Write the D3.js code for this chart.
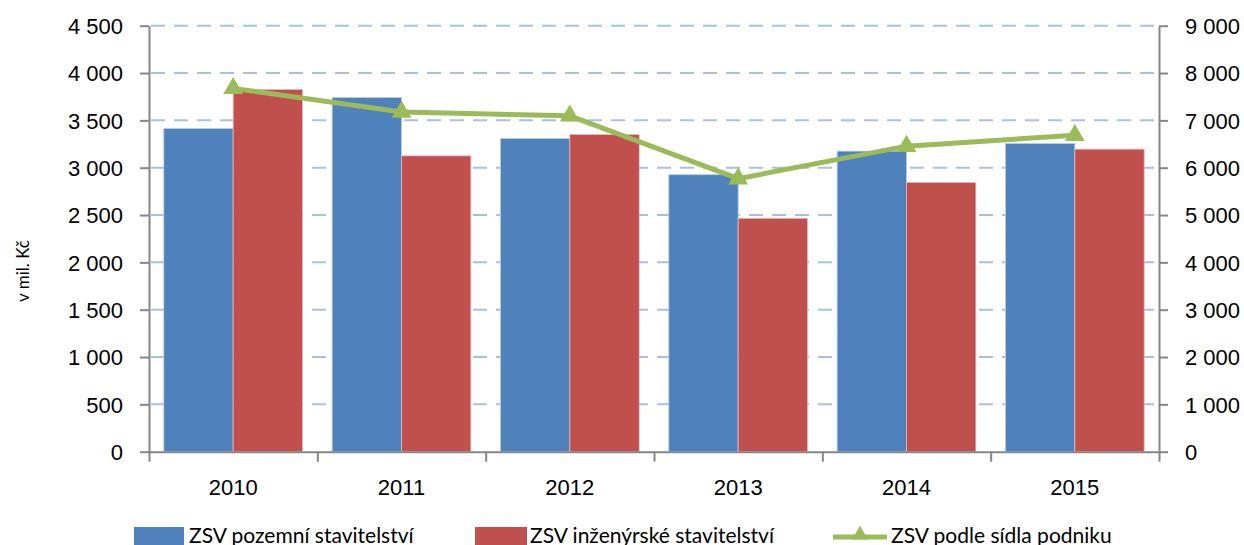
<!DOCTYPE html>
<html>
<head>
<meta charset="utf-8">
<script src="https://cdn.jsdelivr.net/npm/d3@7"></script>
<style>
  body { margin: 0; background: #fff; }
  svg { display: block; font-family: Lato, "Open Sans", sans-serif; }
  .axis path, .axis line { stroke: #868686; stroke-width: 2; }
  .axis text { fill: #000; font-size: 22px; }
  .grid line { stroke: #a9c0e4; stroke-width: 2; stroke-dasharray: 14 9; }
</style>
</head>
<body>
<div class="chart"></div>
<script>
const years = [ "2010", "2011", "2012", "2013", "2014", "2015" ];
const pozemni  = [ 3414, 3741, 3308, 2926, 3175, 3255 ];
const inzenyrske = [ 3826, 3125, 3350, 2465, 2845, 3196 ];
const sidlo = [ 7676, 7177, 7095, 5768, 6455, 6684 ];
const leftTicks  = [ 0, 500, 1000, 1500, 2000, 2500, 3000, 3500, 4000, 4500 ];
const rightTicks = [ 0, 1000, 2000, 3000, 4000, 5000, 6000, 7000, 8000, 9000 ];
const seriesNames = [ "ZSV pozemní stavitelství", "ZSV inženýrské stavitelství", "ZSV podle sídla podniku" ];

const width  = 1244;
const height = 545;
const margin = { top: 25.7, right: 85, bottom: 93.3, left: 149 };
const w = width - margin.left - margin.right;
const h = height - margin.top - margin.bottom;

const blue = "#4f81bd", red = "#c0504d", green = "#9bbb59";
const fmt = d3.formatLocale( { decimal: ",", thousands: " ", grouping: [ 3 ], currency: [ "", " Kč" ] } ).format( ",d" );

const svg = d3.select( ".chart" )
  .append( "svg" )
    .attr( "width", width )
    .attr( "height", height );

const g = svg.append( "g" )
    .attr( "transform", `translate(${ margin.left },${ margin.top })` );

const x = d3.scaleBand()
  .domain( years )
  .range( [ 0, w ] );

const x1 = d3.scaleBand()
  .domain( [ 0, 1 ] )
  .range( [ x.bandwidth() * 0.088, x.bandwidth() * 0.912 ] );

const yLeft = d3.scaleLinear()
  .domain( [ 0, 4500 ] )
  .range( [ h, 0 ] );

const yRight = d3.scaleLinear()
  .domain( [ 0, 9000 ] )
  .range( [ h, 0 ] );

// gridlines
g.append( "g" )
  .attr( "class", "grid" )
  .selectAll( "line" )
  .data( leftTicks.filter( d => d > 0 ) )
  .enter()
    .append( "line" )
    .attr( "x1", 2 )
    .attr( "x2", w )
    .attr( "y1", d => yLeft( d ) )
    .attr( "y2", d => yLeft( d ) );

// bars
const group = g.selectAll( "g.year" )
  .data( years )
  .enter()
    .append( "g" )
    .attr( "class", "year" )
    .attr( "transform", d => `translate(${ x( d ) },0)` );

group.append( "rect" )
  .attr( "x", x1( 0 ) )
  .attr( "width", x1.bandwidth() )
  .attr( "y", ( d, i ) => yLeft( pozemni[ i ] ) )
  .attr( "height", ( d, i ) => h - yLeft( pozemni[ i ] ) )
  .attr( "fill", blue )
  .attr( "stroke", "#b9cde5" )
  .attr( "stroke-width", 0.8 );

group.append( "rect" )
  .attr( "x", x1( 1 ) )
  .attr( "width", x1.bandwidth() )
  .attr( "y", ( d, i ) => yLeft( inzenyrske[ i ] ) )
  .attr( "height", ( d, i ) => h - yLeft( inzenyrske[ i ] ) )
  .attr( "fill", red )
  .attr( "stroke", "#e6b9b8" )
  .attr( "stroke-width", 0.8 );

// axes
const leftAxis = g.append( "g" )
  .attr( "class", "axis" )
  .call( d3.axisLeft( yLeft ).tickValues( leftTicks ).tickFormat( fmt ).tickSize( 9 ).tickSizeOuter( 0 ).tickPadding( 17 ) );

const rightAxis = g.append( "g" )
  .attr( "class", "axis" )
  .attr( "transform", `translate(${ w },0)` )
  .call( d3.axisRight( yRight ).tickValues( rightTicks ).tickFormat( fmt ).tickSize( 9 ).tickSizeOuter( 0 ).tickPadding( 17 ) );

const boundary = d3.scaleLinear().domain( [ 0, years.length ] ).range( [ 0, w ] );

g.append( "g" )
  .attr( "class", "axis" )
  .attr( "transform", `translate(0,${ h })` )
  .call( d3.axisBottom( boundary ).ticks( years.length ).tickFormat( "" ).tickSize( 10 ).tickSizeOuter( 0 ) );

g.append( "g" )
  .attr( "class", "axis" )
  .attr( "transform", `translate(0,${ h })` )
  .call( d3.axisBottom( x ).tickSize( 0 ).tickPadding( 28 ) )
  .call( a => a.select( ".domain" ).remove() );

[ leftAxis, rightAxis ].forEach( a => a.selectAll( "text" ).attr( "dy", "0.36em" ) );

// line series
const line = d3.line()
  .x( ( d, i ) => x( years[ i ] ) + x.bandwidth() / 2 )
  .y( d => yRight( d ) );

g.append( "path" )
  .datum( sidlo )
  .attr( "fill", "none" )
  .attr( "stroke", green )
  .attr( "stroke-width", 5 )
  .attr( "stroke-linejoin", "round" )
  .attr( "d", line );

const tri = d3.symbol().type( d3.symbolTriangle ).size( 170 );

g.selectAll( "path.marker" )
  .data( sidlo )
  .enter()
    .append( "path" )
    .attr( "class", "marker" )
    .attr( "d", tri )
    .attr( "fill", green )
    .attr( "transform", ( d, i ) => `translate(${ x( years[ i ] ) + x.bandwidth() / 2 },${ yRight( d ) })` );

// y title
svg.append( "text" )
  .attr( "transform", "translate(29,271) rotate(-90)" )
  .attr( "text-anchor", "middle" )
  .attr( "font-size", 17 )
  .text( "v mil. Kč" );

// legend
const legend = svg.append( "g" ).attr( "font-size", 21 );

legend.append( "rect" )
  .attr( "x", 134 ).attr( "y", 527 ).attr( "width", 50 ).attr( "height", 18 )
  .attr( "fill", blue );
legend.append( "text" )
  .attr( "x", 189 ).attr( "y", 543 )
  .text( seriesNames[ 0 ] );

legend.append( "rect" )
  .attr( "x", 475 ).attr( "y", 527 ).attr( "width", 52 ).attr( "height", 18 )
  .attr( "fill", red );
legend.append( "text" )
  .attr( "x", 530 ).attr( "y", 543 )
  .text( seriesNames[ 1 ] );

legend.append( "line" )
  .attr( "x1", 833 ).attr( "x2", 887 ).attr( "y1", 537 ).attr( "y2", 537 )
  .attr( "stroke", green ).attr( "stroke-width", 5 );
legend.append( "path" )
  .attr( "d", d3.symbol().type( d3.symbolTriangle ).size( 110 ) )
  .attr( "fill", green )
  .attr( "transform", "translate(860,535)" );
legend.append( "text" )
  .attr( "x", 891 ).attr( "y", 543 )
  .text( seriesNames[ 2 ] );
</script>
</body>
</html>
